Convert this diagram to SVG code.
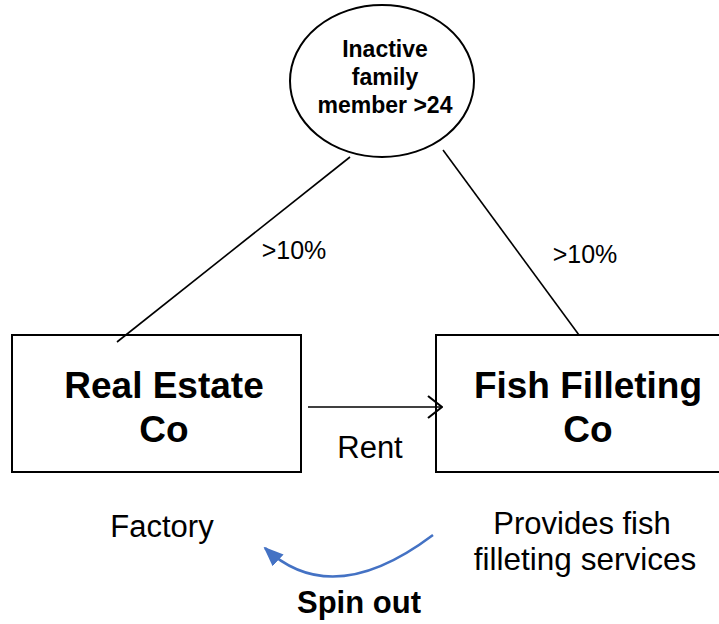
<svg xmlns="http://www.w3.org/2000/svg" width="719" height="624" viewBox="0 0 719 624">
  <style>
    .shape { fill: #ffffff; stroke: #000000; stroke-width: 2; }
    .line { fill: none; stroke: #000000; stroke-width: 1.6; }
    .t { font-family: "Liberation Sans", Arial, sans-serif; fill: #000000; text-anchor: middle; }
    .b { font-weight: bold; }
  </style>
  <defs>
    <marker id="chevron" viewBox="0 0 16 24" refX="15" refY="12" markerWidth="16" markerHeight="24" markerUnits="userSpaceOnUse" orient="auto">
      <path d="M1,1 L15,12 L1,23" fill="none" stroke="#000000" stroke-width="2.2"/>
    </marker>
    <marker id="blueHead" viewBox="0 0 20 20" refX="18" refY="10" markerWidth="20" markerHeight="20" markerUnits="userSpaceOnUse" orient="auto">
      <path d="M0,2 L20,10 L0,18 Z" fill="#4472C4"/>
    </marker>
  </defs>

  <!-- owner -->
  <g id="family-member">
    <ellipse class="shape" cx="382" cy="81" rx="92" ry="76"/>
    <text class="t b" x="385" y="57" font-size="23">Inactive</text>
    <text class="t b" x="385" y="85" font-size="23">family</text>
    <text class="t b" x="385" y="113" font-size="23">member &gt;24</text>
  </g>

  <g id="real-estate-co">
    <rect class="shape" x="12" y="335" width="289" height="137"/>
    <text class="t b" x="164" y="398" font-size="37">Real Estate</text>
    <text class="t b" x="164" y="442" font-size="37">Co</text>
  </g>

  <g id="fish-filleting-co">
    <rect class="shape" x="436" y="335" width="290" height="137"/>
    <text class="t b" x="588" y="398" font-size="37">Fish Filleting</text>
    <text class="t b" x="588" y="442" font-size="37">Co</text>
  </g>

  <!-- connectors -->
  <g id="connectors">
    <line class="line" x1="350" y1="157" x2="117" y2="342"/>
    <line class="line" x1="443" y1="150" x2="579" y2="335"/>
    <line class="line" x1="308" y1="407" x2="442" y2="407" marker-end="url(#chevron)" stroke-width="2"/>
    <path d="M433,535 Q332,611 265,548" fill="none" stroke="#4472C4" stroke-width="2.5" marker-end="url(#blueHead)"/>
  </g>

  <!-- labels -->
  <g id="labels">
    <text class="t" x="294" y="259" font-size="25">&gt;10%</text>
    <text class="t" x="585" y="263" font-size="25">&gt;10%</text>
    <text class="t" x="370" y="458" font-size="31">Rent</text>
    <text class="t" x="162" y="537" font-size="31">Factory</text>
    <text class="t" x="582" y="534" font-size="31">Provides fish</text>
    <text class="t" x="585" y="570" font-size="31.5">filleting services</text>
    <text class="t b" x="359" y="613" font-size="31">Spin out</text>
  </g>
</svg>
